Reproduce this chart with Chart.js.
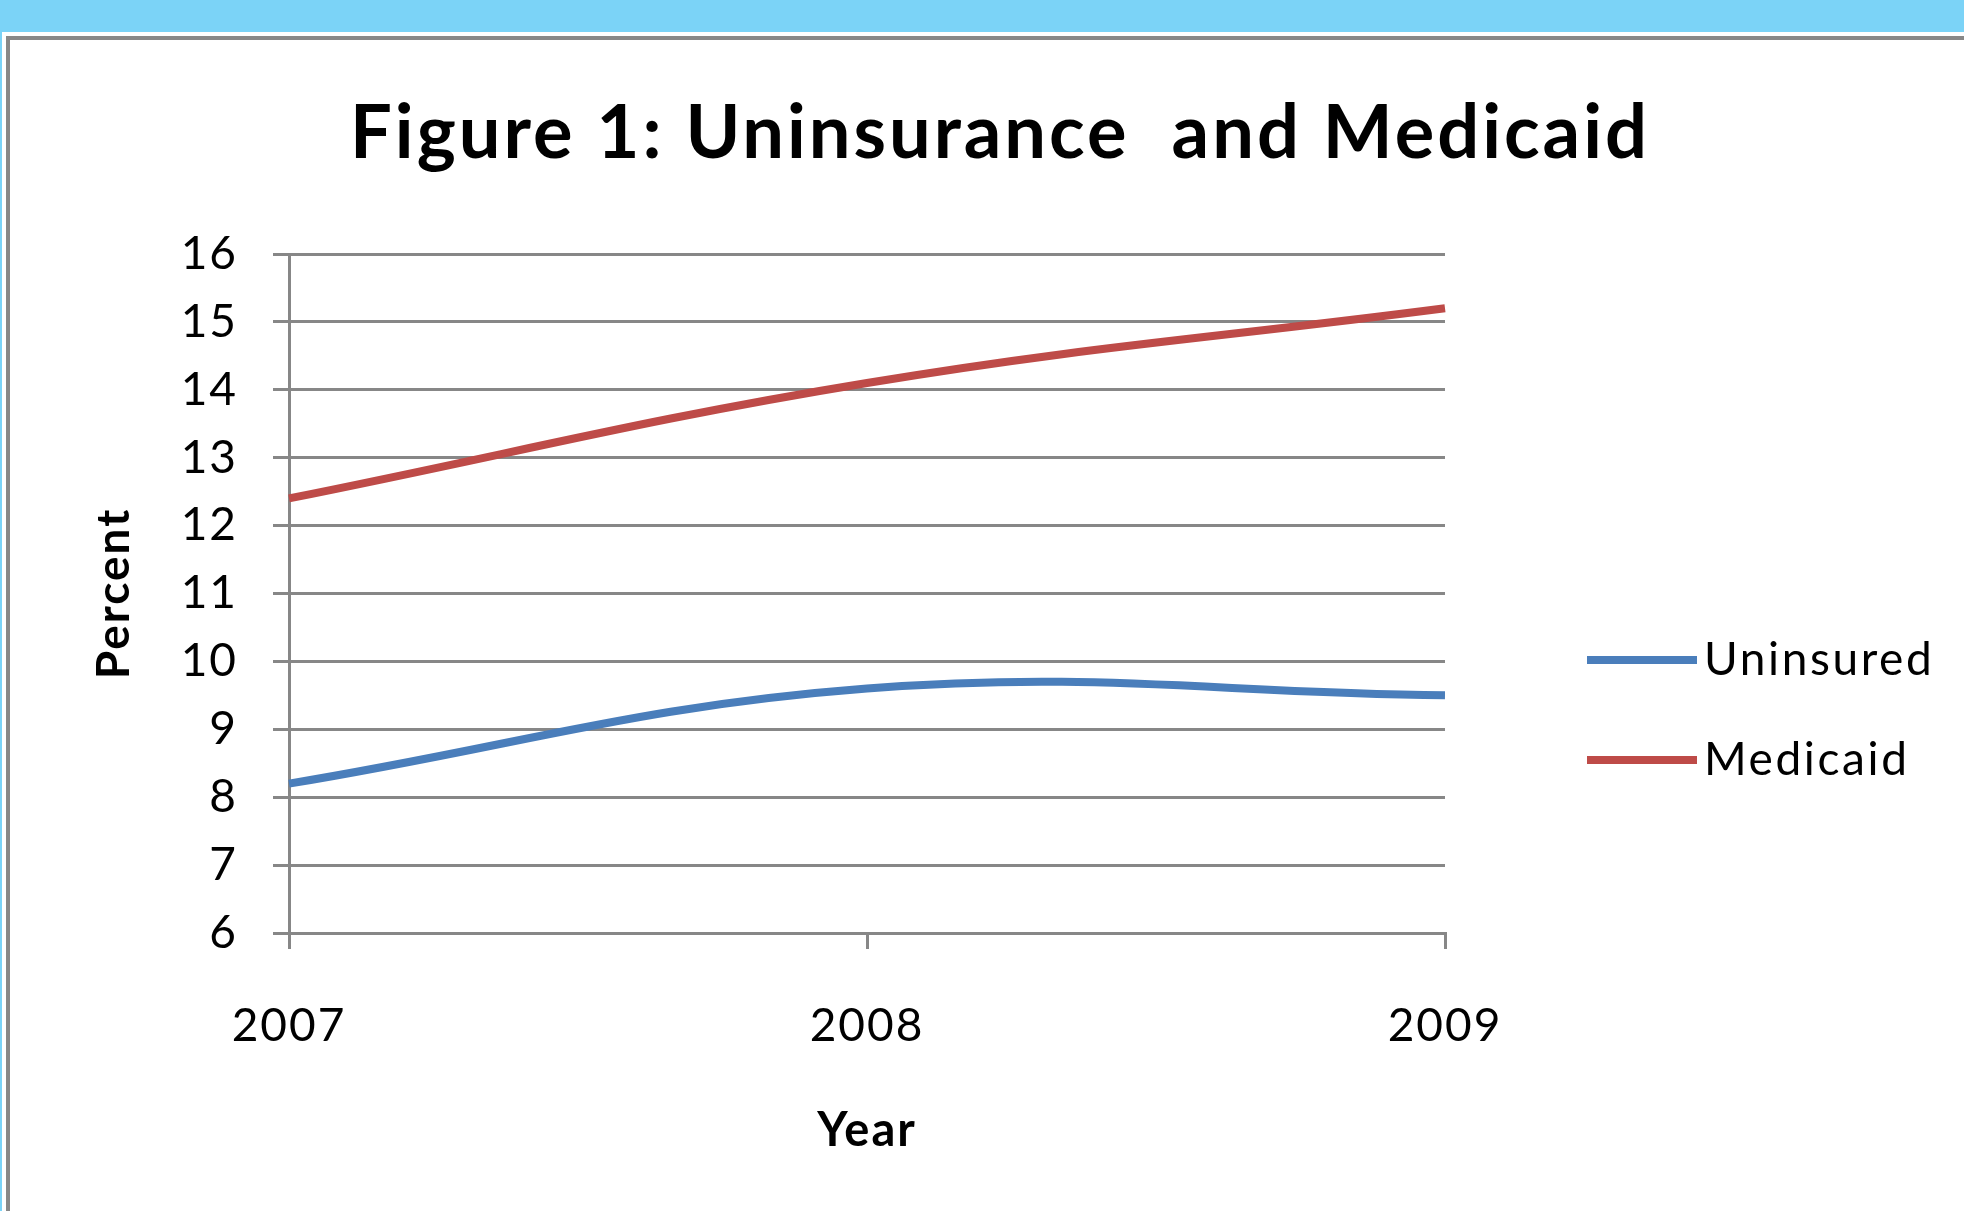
<!DOCTYPE html>
<html>
<head>
<meta charset="utf-8">
<script src="https://cdn.jsdelivr.net/npm/chart.js@4"></script>
<style>
  html, body { margin: 0; padding: 0; background: #fff; overflow: hidden; }
  .band { position: absolute; left: 0; top: 0; width: 1964px; height: 32px; background: #7bd3f7; }
  .edge { position: absolute; left: 0; top: 0; width: 2px; height: 1211px; background: #7bd3f7; }
  .frame { position: absolute; left: 6px; top: 36px; width: 2000px; height: 1300px; border: 4px solid #888; box-sizing: border-box; }
  #chart { position: absolute; left: 0; top: 0; }
</style>
</head>
<body>
<div class="band"></div>
<div class="edge"></div>
<div class="frame"></div>
<canvas id="chart" width="1964" height="1211"></canvas>
<script>
// values
const years = ["2007", "2008", "2009"];
const uninsured = [8.2, 9.6, 9.5];
const medicaid = [12.4, 14.1, 15.2];
const seriesNames = ["Uninsured", "Medicaid"];
const chartTitle = "Figure 1: Uninsurance  and Medicaid";

const GRID = '#878787';
const BLUE = '#4a7ebb';
const RED = '#be4b48';
const FONT = 'Lato, "Open Sans", sans-serif';

// the original (Calibri) text runs a bit wider than Lato, so space it out
const wideText = {
  id: 'wideText',
  beforeDraw(chart) {
    chart.ctx.letterSpacing = '2px';
  }
};

// title centred over the whole figure, not just the plot area
const figureTitle = {
  id: 'figureTitle',
  afterDraw(chart) {
    const ctx = chart.ctx;
    ctx.save();
    ctx.letterSpacing = '3px';
    ctx.fillStyle = '#000';
    ctx.font = 'bold 74px ' + FONT;
    ctx.textAlign = 'center';
    ctx.textBaseline = 'middle';
    ctx.fillText(chartTitle, 1000, 134);
    ctx.restore();
  }
};

// line-style legend on the right, like the Excel original
const lineLegend = {
  id: 'lineLegend',
  afterDraw(chart) {
    const ctx = chart.ctx;
    const rows = [660, 760];
    ctx.save();
    ctx.letterSpacing = '2.6px';
    chart.data.datasets.forEach((ds, i) => {
      const y = rows[i];
      ctx.strokeStyle = ds.borderColor;
      ctx.lineWidth = 8;
      ctx.lineCap = 'butt';
      ctx.beginPath();
      ctx.moveTo(1587, y);
      ctx.lineTo(1697, y);
      ctx.stroke();
      ctx.fillStyle = '#000';
      ctx.font = '46px ' + FONT;
      ctx.textAlign = 'left';
      ctx.textBaseline = 'middle';
      ctx.fillText(ds.label, 1704, y);
    });
    ctx.restore();
  }
};

const ctx = document.getElementById('chart').getContext('2d');
new Chart(ctx, {
  type: 'line',
  data: {
    labels: years,
    datasets: [
      { label: seriesNames[0], data: uninsured, borderColor: BLUE, backgroundColor: BLUE,
        borderWidth: 8, pointRadius: 0, tension: 0.4, fill: false },
      { label: seriesNames[1], data: medicaid, borderColor: RED, backgroundColor: RED,
        borderWidth: 8, pointRadius: 0, tension: 0.4, fill: false }
    ]
  },
  options: {
    responsive: false,
    animation: false,
    devicePixelRatio: 1,
    layout: { padding: { top: 254, left: 10, right: 519, bottom: 0 } },
    plugins: {
      legend: { display: false },
      tooltip: { enabled: false },
      title: { display: false }
    },
    scales: {
      x: {
        offset: false,
        grid: { drawOnChartArea: false, drawTicks: true, tickLength: 16, color: GRID, lineWidth: 3 },
        border: { display: true, color: GRID, width: 3 },
        ticks: { color: '#000', padding: 50, maxRotation: 0, font: { family: FONT, size: 46 } },
        title: { display: true, text: 'Year', color: '#000', font: { family: FONT, size: 47, weight: 'bold' },
                 padding: { top: 0, bottom: 52 } },
        afterFit(scale) { scale.height = 1211 - 933; }
      },
      y: {
        min: 6,
        max: 16,
        grid: { drawOnChartArea: true, drawTicks: true, tickLength: 16, color: GRID, lineWidth: 3 },
        border: { display: true, color: GRID, width: 3 },
        ticks: { stepSize: 1, color: '#000', padding: 35, font: { family: FONT, size: 46 } },
        title: { display: true, text: 'Percent', color: '#000', font: { family: FONT, size: 46, weight: 'bold' },
                 padding: { top: 77, bottom: 0 } },
        afterFit(scale) { scale.width = 289 - 10; }
      }
    }
  },
  plugins: [wideText, figureTitle, lineLegend]
});
</script>
</body>
</html>
